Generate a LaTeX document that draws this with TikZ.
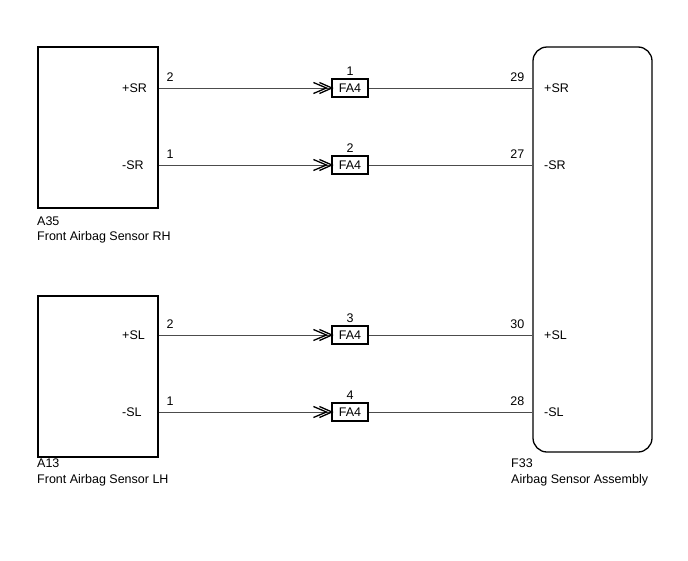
\documentclass[tikz,border=0pt]{standalone}
\usepackage{fontspec}
\setmainfont{Liberation Sans}
\begin{document}
\begin{tikzpicture}[x=1pt,y=-1pt,
  every node/.style={font=\fontsize{12.5}{14}\selectfont, inner sep=0pt},
  compbox/.style={draw=black, line width=1.3pt, minimum width=120pt, minimum height=161pt},
  ecubox/.style={draw=black, line width=1.3pt, rounded corners=14pt, minimum width=119pt, minimum height=405pt},
  connbox/.style={draw=black, line width=1.1pt, minimum width=36pt, minimum height=18pt},
  wire/.style={draw=black!70, line width=0.9pt},
  chev/.style={draw=black, line width=1.3pt},
  lbl/.style={anchor=base west},
  lblr/.style={anchor=base east}]
\useasboundingbox (0,0) rectangle (688,560);

% components
\node[compbox] (a35) at (98,127.5) {};
\node[compbox] (a13) at (98,376.5) {};
\node[ecubox] (f33) at (592.5,249.5) {};

% connectors
\node[connbox] (c1) at (350,88) {FA4};
\node[connbox] (c2) at (350,165) {FA4};
\node[connbox] (c3) at (350,335) {FA4};
\node[connbox] (c4) at (350,412) {FA4};

\foreach \c/\n in {c1/1,c2/2,c3/3,c4/4}{
  \node[anchor=base] (\c num) at ([yshift=12.5pt]\c.center) {\n};
  \draw[wire] (\c.west -| a35.east) -- (\c.west);
  \draw[wire] (\c.east) -- (\c.east -| f33.west);
  \draw[chev] ([xshift=-18pt,yshift=-5.5pt]\c.west) -- ([xshift=-5pt]\c.west) -- ([xshift=-18pt,yshift=5.5pt]\c.west);
  \draw[chev] ([xshift=-12pt,yshift=-5.5pt]\c.west) -- ([xshift=0.5pt]\c.west) -- ([xshift=-12pt,yshift=5.5pt]\c.west);
}

% left component pins
\node[lbl] (l1) at (122,92) {+SR};
\node[lbl] (l2) at (122,169.5) {-SR};
\node[lbl] (l3) at (122,339) {+SL};
\node[lbl] (l4) at (122,416.5) {-SL};
\node[lbl] (p1) at (166.5,81.5) {2};
\node[lbl] (p2) at (166.5,158.5) {1};
\node[lbl] (p3) at (166.5,328.5) {2};
\node[lbl] (p4) at (166.5,405.5) {1};

% right component pins
\node[lbl] (r1) at (544,92) {+SR};
\node[lbl] (r2) at (544,169.5) {-SR};
\node[lbl] (r3) at (544,339) {+SL};
\node[lbl] (r4) at (544,416.5) {-SL};
\node[lblr] (q1) at (524.5,81.5) {29};
\node[lblr] (q2) at (524.5,158.5) {27};
\node[lblr] (q3) at (524.5,328.5) {30};
\node[lblr] (q4) at (524.5,405.5) {28};

% component names
\node[lbl] (n1) at (37,225) {A35};
\node[lbl] (n2) at (37,240) {Front Airbag Sensor RH};
\node[lbl] (n3) at (37,467) {A13};
\node[lbl] (n4) at (37,483.5) {Front Airbag Sensor LH};
\node[lbl] (n5) at (511,467) {F33};
\node[lbl] (n6) at (511,483.5) {Airbag Sensor Assembly};
\end{tikzpicture}
\end{document}
